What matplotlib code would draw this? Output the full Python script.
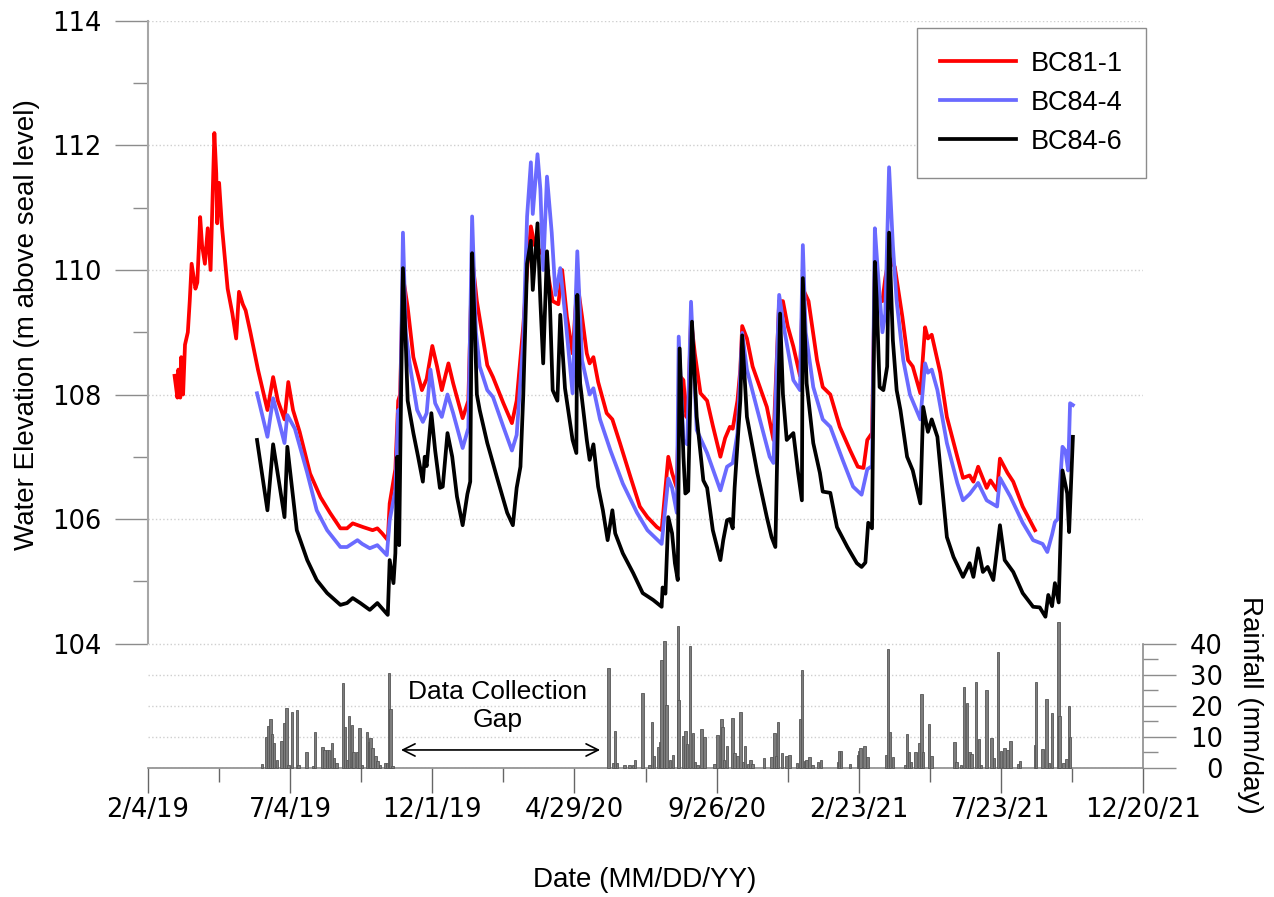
import numpy as np
import matplotlib
matplotlib.use("Agg")
import matplotlib.pyplot as plt
import matplotlib.dates as mdates
from matplotlib.ticker import MultipleLocator, FixedLocator, FuncFormatter

plt.rcParams['font.family'] = ['Liberation Sans', 'DejaVu Sans']

# days are counted from the first axis date
start = np.datetime64('2019-02-04')

red_days = [28, 31, 32, 34, 35, 37, 39, 42, 44, 46, 50, 52, 55, 57, 60, 63, 66, 70, 72, 73,
            75, 78, 81, 84, 89, 93, 96, 100, 103, 108, 116, 126, 132, 137, 144, 148, 153, 160,
            171, 182, 192, 203, 210, 216, 227, 237, 242, 247, 253, 255, 261, 264, 266, 269,
            274, 280, 289, 294, 300, 305, 310, 317, 322, 332, 338, 342, 347, 358, 364, 375,
            384, 389, 396, 400, 404, 408, 414, 419, 427, 433, 437, 442, 448, 453, 458, 463,
            466, 470, 475, 484, 490, 498, 509, 519, 527, 537, 542, 549, 553, 558, 561, 565,
            568, 570, 573, 577, 583, 590, 596, 604, 609, 614, 617, 622, 625, 627, 632, 638,
            653, 660, 666, 670, 675, 681, 688, 691, 697, 706, 712, 720, 730, 741, 749, 755,
            759, 764, 767, 770, 775, 778, 782, 788, 796, 802, 807, 815, 820, 823, 827, 836,
            843, 854, 860, 867, 871, 876, 881, 885, 889, 896, 899, 907, 913, 923, 936]
red_elev = [108.3, 107.95, 108.4, 107.95, 108.6, 108.0, 108.8, 109.0, 109.5, 110.1, 109.7,
            109.8, 110.85, 110.4, 110.1, 110.67, 110.0, 112.2, 111.55, 110.75, 111.4, 110.7,
            110.2, 109.7, 109.3, 108.9, 109.65, 109.45, 109.35, 109.0, 108.4, 107.75, 108.28,
            107.9, 107.6, 108.2, 107.75, 107.4, 106.73, 106.35, 106.1, 105.85, 105.85, 105.93,
            105.87, 105.82, 105.85, 105.77, 105.66, 106.25, 106.8, 107.9, 108.0, 109.9, 109.4,
            108.6, 108.07, 108.25, 108.78, 108.45, 108.07, 108.5, 108.18, 107.62, 107.9, 110.2,
            109.5, 108.47, 108.28, 107.86, 107.54, 107.9, 109.1, 110.0, 110.7, 110.4, 110.3,
            110.2, 109.5, 109.45, 110.0, 109.25, 108.66, 109.8, 109.25, 108.66, 108.5, 108.6,
            108.2, 107.7, 107.6, 107.22, 106.68, 106.2, 106.03, 105.87, 105.82, 107.0, 106.74,
            106.5, 108.3, 108.23, 107.64, 107.8, 109.2, 108.66, 108.02, 107.9, 107.5, 107.0,
            107.3, 107.48, 107.45, 107.9, 108.4, 109.1, 108.9, 108.45, 107.8, 107.27, 109.5,
            109.5, 109.1, 108.77, 108.3, 109.7, 109.5, 108.55, 108.12, 108.0, 107.48, 107.1,
            106.84, 106.82, 107.27, 107.38, 110.0, 109.6, 109.5, 109.87, 110.2, 110.05, 109.25,
            108.55, 108.45, 108.02, 109.08, 108.9, 108.96, 108.35, 107.64, 107.0, 106.66,
            106.7, 106.6, 106.84, 106.65, 106.5, 106.62, 106.46, 106.97, 106.74, 106.6, 106.2,
            105.82]

blue_days = [115, 126, 132, 144, 147, 155, 168, 178, 189, 203, 210, 221, 226, 234, 242, 252,
             255, 261, 264, 266, 269, 272, 276, 284, 290, 294, 298, 303, 310, 316, 322, 332,
             338, 342, 346, 350, 358, 364, 375, 384, 389, 396, 400, 404, 406, 411, 414, 417,
             421, 426, 430, 435, 440, 448, 453, 458, 466, 470, 477, 488, 501, 516, 527, 542,
             549, 553, 558, 560, 565, 569, 573, 579, 590, 604, 611, 617, 622, 627, 632, 643,
             656, 660, 666, 672, 681, 688, 691, 694, 702, 712, 720, 733, 744, 753, 759, 764,
             767, 770, 775, 778, 782, 786, 790, 797, 804, 815, 820, 823, 827, 833, 843, 854,
             860, 867, 876, 885, 896, 899, 910, 923, 934, 944, 949, 954, 957, 960, 965, 968,
             971, 973, 976]
blue_elev = [108.02, 107.32, 107.94, 107.22, 107.67, 107.45, 106.74, 106.14, 105.82, 105.55,
             105.55, 105.66, 105.6, 105.53, 105.58, 105.42, 105.98, 106.46, 107.75, 107.6,
             110.6, 109.0, 108.5, 107.75, 107.56, 107.7, 108.4, 107.86, 107.64, 108.0, 107.7,
             107.14, 107.46, 110.86, 109.0, 108.45, 108.07, 107.96, 107.48, 107.1, 107.35,
             108.87, 110.86, 111.73, 110.9, 111.86, 111.3, 110.0, 111.5, 110.6, 109.6, 110.03,
             109.3, 108.02, 110.3, 108.55, 108.0, 108.1, 107.6, 107.1, 106.57, 106.1, 105.82,
             105.6, 106.65, 106.5, 106.1, 108.93, 107.27, 107.2, 109.49, 107.43, 107.06,
             106.46, 106.84, 106.9, 107.38, 108.99, 108.4, 107.75, 107.0, 106.9, 109.6,
             108.99, 108.23, 108.07, 110.4, 109.0, 108.12, 107.6, 107.48, 106.95, 106.52,
             106.39, 106.8, 106.85, 110.67, 110.0, 109.0, 109.3, 111.65, 110.4, 109.5, 108.55,
             108.0, 107.6, 108.5, 108.35, 108.4, 108.07, 107.22, 106.58, 106.3, 106.4, 106.58,
             106.3, 106.2, 106.66, 106.36, 105.94, 105.66, 105.6, 105.47, 105.75, 105.95,
             106.0, 107.16, 107.1, 106.78, 107.86, 107.83]

black_days = [115, 126, 132, 144, 147, 157, 168, 178, 189, 203, 210, 216, 224, 234, 242, 253,
              255, 259, 261, 263, 265, 267, 269, 272, 274, 280, 285, 290, 292, 294, 299, 303,
              308, 311, 316, 321, 326, 332, 337, 340, 342, 345, 347, 350, 358, 361, 368, 379,
              385, 389, 393, 396, 400, 404, 406, 411, 414, 417, 421, 424, 427, 432, 435, 440,
              448, 452, 453, 456, 463, 466, 470, 475, 480, 485, 490, 493, 501, 512, 522, 533,
              542, 543, 546, 549, 553, 556, 559, 561, 565, 567, 570, 574, 579, 586, 590, 596,
              604, 607, 611, 614, 617, 619, 625, 627, 632, 643, 653, 658, 662, 667, 670, 674,
              681, 686, 690, 691, 695, 702, 709, 712, 720, 727, 738, 748, 753, 757, 760, 764,
              767, 769, 772, 776, 780, 782, 786, 790, 794, 801, 807, 815, 818, 823, 827, 833,
              843, 850, 860, 867, 871, 876, 881, 886, 892, 899, 904, 913, 923, 934, 941, 947,
              950, 954, 957, 961, 965, 970, 972, 976]
black_elev = [107.27, 106.14, 107.2, 106.03, 107.16, 105.82, 105.34, 105.02, 104.81, 104.62,
              104.65, 104.73, 104.65, 104.54, 104.65, 104.46, 105.34, 104.97, 105.45, 107.0,
              105.58, 108.0, 110.03, 108.8, 107.9, 107.38, 107.0, 106.6, 107.0, 106.85, 107.7,
              107.1, 106.5, 106.52, 107.38, 107.0, 106.36, 105.9, 106.4, 106.6, 110.27, 109.0,
              108.0, 107.75, 107.22, 107.06, 106.68, 106.1, 105.9, 106.5, 106.84, 108.0, 110.1,
              110.47, 109.68, 110.75, 109.5, 108.5, 110.3, 109.5, 108.07, 107.9, 109.28, 108.1,
              107.27, 107.06, 109.6, 108.18, 107.27, 106.95, 107.2, 106.52, 106.14, 105.66,
              106.14, 105.77, 105.45, 105.13, 104.81, 104.7, 104.59, 104.9, 104.8, 106.03,
              105.77, 105.29, 105.02, 108.74, 107.0, 106.41, 106.45, 109.17, 107.64, 106.62,
              106.5, 105.82, 105.34, 105.66, 105.98, 106.0, 105.85, 106.5, 107.9, 108.95,
              107.64, 106.74, 106.03, 105.71, 105.55, 109.3, 108.0, 107.27, 107.38, 106.74,
              106.3, 109.87, 108.18, 107.22, 106.74, 106.44, 106.42, 105.87, 105.55, 105.29,
              105.23, 105.3, 105.94, 105.85, 110.13, 109.5, 108.12, 108.07, 108.45, 110.6,
              108.87, 108.07, 107.75, 107.0, 106.78, 106.25, 107.8, 107.4, 107.6, 107.32,
              105.71, 105.39, 105.07, 105.29, 105.07, 105.53, 105.15, 105.23, 105.02, 105.9,
              105.34, 105.15, 104.81, 104.59, 104.58, 104.43, 104.78, 104.6, 104.97, 104.66,
              106.78, 106.41, 105.79, 107.32]

rain_days = [120, 125, 127, 129, 131, 133, 136, 141, 144, 146, 148, 152, 157, 159, 167, 174,
             176, 184, 186, 189, 191, 194, 196, 199, 206, 208, 210, 212, 215, 217, 221, 223,
             226, 231, 233, 235, 237, 240, 242, 245, 250, 252, 254, 256, 258,
             486, 491, 493, 495, 503, 508, 512, 514, 522, 529, 532, 534, 538, 540, 542, 545,
             547, 551, 554, 559, 560, 565, 567, 569, 572, 575, 577, 580, 584, 587, 598, 601,
             605, 606, 608, 611, 617, 619, 622, 625, 628, 630, 633, 636, 638, 650, 658, 661,
             663, 665, 669, 674, 677, 685, 688, 690, 693, 695, 698, 701, 707, 710, 728, 729,
             731, 741, 749, 751, 752, 756, 759, 779, 781, 783, 786, 799, 801, 803, 805, 810,
             814, 816, 818, 824, 827, 851, 853, 858, 861, 864, 867, 869, 874, 877, 879, 885,
             890, 893, 897, 900, 904, 907, 910, 918, 920, 936, 937, 944, 948, 951, 954, 961,
             962, 966, 969, 972, 973]
rain_mm = [1.4, 10.1, 13.5, 15.7, 10.9, 8.0, 2.7, 8.7, 14.6, 19.4, 1.1, 17.9, 18.6, 1.0, 5.3,
           0.5, 11.7, 6.6, 5.9, 5.9, 5.9, 8.0, 3.2, 1.6, 27.3, 13.1, 2.7, 16.8, 13.8, 5.3, 5.1,
           12.8, 1.0, 11.7, 8.3, 9.8, 6.4, 3.7, 2.1, 1.0, 1.6, 1.6, 30.6, 18.9, 0.5,
           32.0, 1.6, 11.8, 1.6, 1.0, 1.0, 1.0, 2.7, 24.0, 1.0, 14.8, 3.7, 6.8, 8.4, 34.8,
           40.8, 20.4, 2.7, 4.3, 45.5, 22.0, 10.2, 12.0, 7.8, 39.3, 11.2, 2.0, 1.0, 12.5, 9.9,
           1.4, 10.5, 15.8, 13.2, 2.7, 7.2, 16.0, 4.8, 3.7, 18.0, 2.0, 7.0, 1.4, 2.7, 1.4, 3.2,
           3.5, 11.2, 4.0, 14.8, 4.8, 4.0, 4.3, 1.6, 15.9, 31.4, 2.1, 2.7, 3.4, 0.9, 1.8, 2.7,
           2.0, 5.4, 5.6, 1.4, 4.3, 5.4, 6.4, 7.2, 3.5, 4.3, 38.3, 11.6, 3.4, 1.0, 10.9, 5.1,
           1.8, 5.1, 8.0, 23.8, 5.1, 14.1, 3.7, 8.3, 1.8, 1.0, 26.0, 21.0, 5.0, 4.5, 27.5, 9.4,
           1.0, 25.2, 9.6, 3.2, 37.3, 5.6, 6.4, 5.9, 8.8, 1.4, 2.1, 7.5, 27.5, 6.2, 22.2, 1.6,
           17.7, 47.0, 16.6, 1.6, 2.9, 19.8, 9.9]

series = [("BC81-1", red_days, red_elev, "#ff0000"),
          ("BC84-4", blue_days, blue_elev, "#6a6aff"),
          ("BC84-6", black_days, black_elev, "#000000")]


def to_dates(days):
    return start + np.array(days).astype('timedelta64[D]')


def fmt_date(v, pos):
    d = mdates.num2date(v)
    return f"{d.month}/{d.day}/{d.year % 100:02d}"


grey = "#8c8c8c"
tick_font = "DejaVu Sans"

fig = plt.figure(figsize=(12.74, 8.97), dpi=100)
ax = fig.add_axes([0.1162, 0.2826, 0.7810, 0.6940])
axr = fig.add_axes([0.1162, 0.1438, 0.7810, 0.1388], sharex=ax)

for name, d, v, c in series:
    ax.plot(to_dates(d), v, color=c, lw=2.7, label=name, solid_joinstyle='round')

ax.set_ylim(104, 114)
ax.yaxis.set_major_locator(MultipleLocator(2))
ax.yaxis.set_minor_locator(MultipleLocator(1))
ax.grid(axis='y', which='major', color='#cfcfcf', ls=':', lw=1.0)
for s in ['top', 'right', 'bottom']:
    ax.spines[s].set_visible(False)
ax.spines['left'].set_color('#a6a6a6')
ax.spines['left'].set_linewidth(1.5)
ax.tick_params(axis='y', which='major', direction='out', length=23.5, width=1.0,
               color=grey, labelsize=18.5, pad=10, labelfontfamily=tick_font)
ax.tick_params(axis='y', which='minor', direction='out', length=11, width=1.0, color=grey)
ax.tick_params(axis='x', which='both', bottom=False, labelbottom=False)

leg = ax.legend(loc='upper right', bbox_to_anchor=(1.003, 0.989), borderaxespad=0,
                fontsize=19.5, handlelength=2.8, handletextpad=0.55,
                labelspacing=0.48, borderpad=0.85, fancybox=False, framealpha=1)
leg.get_frame().set_edgecolor('#8c8c8c')
leg.get_frame().set_linewidth(1.0)

# rainfall panel
axr.bar(to_dates(rain_days), rain_mm, width=2.6, color='#7d7d7d', edgecolor='#555555',
        linewidth=0.6, clip_on=False, zorder=3)
axr.set_ylim(0, 40)
axr.yaxis.tick_right()
axr.yaxis.set_major_locator(MultipleLocator(10))
axr.yaxis.set_minor_locator(MultipleLocator(5))
axr.grid(axis='y', which='major', color='#cfcfcf', ls=':', lw=1.0)
for s in ['top', 'left']:
    axr.spines[s].set_visible(False)
for s in ['right', 'bottom']:
    axr.spines[s].set_color(grey)
    axr.spines[s].set_linewidth(1.2)
axr.tick_params(axis='y', which='major', direction='out', length=23.5, width=1.0,
                color=grey, labelsize=18.5, pad=34, labelfontfamily=tick_font)
axr.tick_params(axis='y', which='minor', direction='out', length=11, width=1.0, color=grey)
for lab in axr.get_yticklabels():
    lab.set_horizontalalignment('right')

xmaj = mdates.date2num(start + np.arange(0, 1051, 150).astype('timedelta64[D]'))
xmin = mdates.date2num(start + np.arange(75, 1050, 150).astype('timedelta64[D]'))
axr.xaxis.set_major_locator(FixedLocator(xmaj))
axr.xaxis.set_minor_locator(FixedLocator(xmin))
axr.xaxis.set_major_formatter(FuncFormatter(fmt_date))
axr.set_xlim(xmaj[0], xmaj[-1])
axr.tick_params(axis='x', which='major', direction='out', length=18, width=1.0,
                color='#666666', labelsize=18.5, pad=3, labelfontfamily=tick_font)
axr.tick_params(axis='x', which='minor', direction='out', length=10, width=1.0,
                color='#666666')

gap_a = mdates.date2num(start + np.timedelta64(264, 'D'))
gap_b = mdates.date2num(start + np.timedelta64(480, 'D'))
gap_c = mdates.date2num(start + np.timedelta64(369, 'D'))
axr.annotate('', xy=(gap_b, 5.8), xytext=(gap_a, 5.8),
             arrowprops=dict(arrowstyle='<->', color='black', lw=1.2, mutation_scale=22))
axr.text(gap_c, 20.0, "Data Collection\nGap", ha='center', va='center', fontsize=19,
         linespacing=1.2)

fig.text(0.021, 0.638, "Water Elevation (m above seal level)", rotation=90,
         ha='center', va='center', fontsize=20)
fig.text(0.981, 0.214, "Rainfall (mm/day)", rotation=270, ha='center', va='center',
         fontsize=20)
fig.text(0.506, 0.019, "Date (MM/DD/YY)", ha='center', va='center', fontsize=20)

fig.savefig("out.png", dpi=100)
